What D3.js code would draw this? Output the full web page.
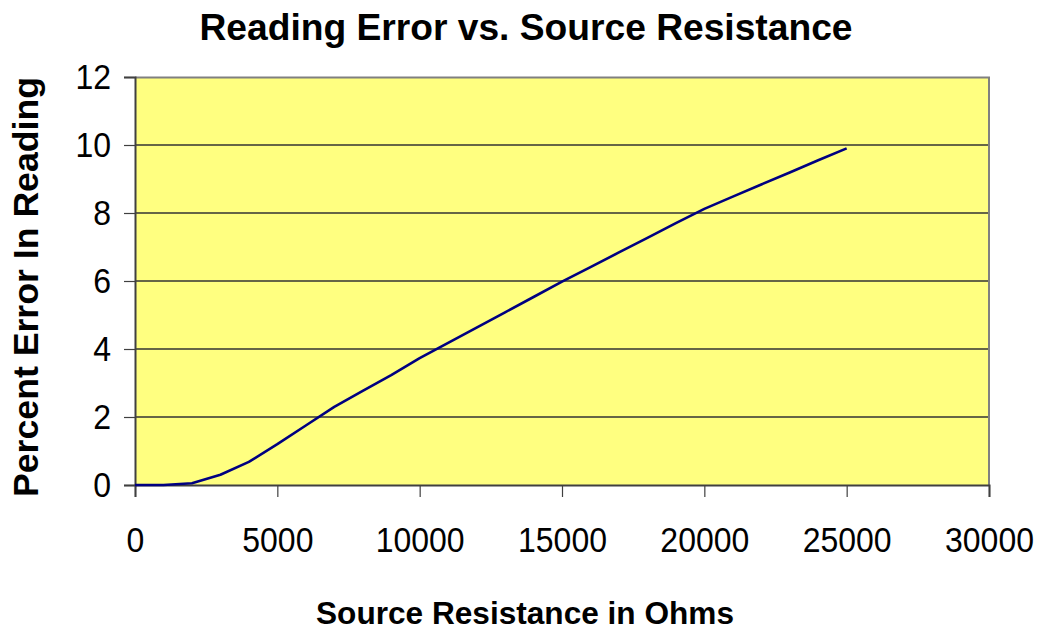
<!DOCTYPE html>
<html>
<head>
<meta charset="utf-8">
<script src="https://cdn.jsdelivr.net/npm/d3@7"></script>
<style>
  body { margin: 0; background: #fff; }
  text { font-family: Arial, "Liberation Sans", sans-serif; }
</style>
</head>
<body>
<div id="chart"></div>
<script>
// data
var resistance = [0, 1000, 2000, 3000, 4000, 5000, 6000, 7000, 8000, 9000, 10000, 11000, 12000,
  13000, 14000, 15000, 16000, 17000, 18000, 19000, 20000, 21000, 22000, 23000, 24000, 25000];
var percentError = [0, 0, 0.05, 0.3, 0.68, 1.2, 1.75, 2.3, 2.77, 3.23, 3.73, 4.18, 4.63,
  5.08, 5.53, 5.98, 6.41, 6.84, 7.27, 7.7, 8.12, 8.48, 8.84, 9.19, 9.55, 9.9];
var xTicks = [0, 5000, 10000, 15000, 20000, 25000, 30000];
var yTicks = [0, 2, 4, 6, 8, 10, 12];

var svgWidth = 1045;
var svgHeight = 634;

var margin = {
  top: 77,
  right: 56,
  bottom: 149,
  left: 135
};

var width = svgWidth - margin.left - margin.right;
var height = svgHeight - margin.top - margin.bottom;

var svg = d3.select("#chart")
  .append("svg")
  .attr("width", svgWidth)
  .attr("height", svgHeight);

var chartGroup = svg.append("g")
  .attr("transform", `translate(${margin.left}, ${margin.top})`);

var xScale = d3.scaleLinear().domain([0, 30000]).range([0, width]);
var yScale = d3.scaleLinear().domain([0, 12]).range([height, 0]);

// plot background
chartGroup.append("rect")
  .attr("x", 0)
  .attr("y", 0)
  .attr("width", width)
  .attr("height", height)
  .attr("fill", "#ffff80");

// horizontal gridlines
chartGroup.selectAll(".grid")
  .data(yTicks.filter(d => d > 0 && d < 12))
  .enter()
  .append("line")
  .attr("x1", 0)
  .attr("x2", width)
  .attr("y1", d => yScale(d))
  .attr("y2", d => yScale(d))
  .attr("stroke", "#333")
  .attr("stroke-width", 1.5);

// top and right border
chartGroup.append("path")
  .attr("d", `M0,0.5H${width}V${height}`)
  .attr("fill", "none")
  .attr("stroke", "#808080")
  .attr("stroke-width", 2);

// axes
var bottomAxis = d3.axisBottom(xScale).tickValues(xTicks).tickFormat(d3.format("d"))
  .tickSize(12).tickPadding(30);
var leftAxis = d3.axisLeft(yScale).tickValues(yTicks).tickFormat(d3.format("d"))
  .tickSize(11).tickPadding(13);

var xAxis = chartGroup.append("g")
  .attr("transform", `translate(0, ${height})`)
  .call(bottomAxis);

var yAxis = chartGroup.append("g")
  .call(leftAxis);

[xAxis, yAxis].forEach(function(ax) {
  ax.select(".domain").attr("stroke", "#404040").attr("stroke-width", 2);
  ax.selectAll(".tick line").attr("stroke", "#404040").attr("stroke-width", 1.2);
  // the original digits are a little taller and narrower than plain Arial
  ax.selectAll(".tick text")
    .attr("fill", "#000")
    .attr("textLength", function() { return this.textContent.length * 17.8; })
    .attr("lengthAdjust", "spacingAndGlyphs")
    .style("font-size", "35px")
    .style("font-family", "Arial, 'Liberation Sans', sans-serif");
});

// the curve
var line = d3.line()
  .x((d, i) => xScale(resistance[i]))
  .y(d => yScale(d));

chartGroup.append("path")
  .datum(percentError)
  .attr("d", line)
  .attr("fill", "none")
  .attr("stroke", "#000080")
  .attr("stroke-width", 2.6)
  .attr("stroke-linejoin", "round");

// titles
svg.append("text")
  .attr("x", 526)
  .attr("y", 40)
  .attr("text-anchor", "middle")
  .attr("textLength", 653)
  .attr("lengthAdjust", "spacingAndGlyphs")
  .style("font-size", "36px")
  .style("font-weight", "bold")
  .text("Reading Error vs. Source Resistance");

svg.append("text")
  .attr("x", 525)
  .attr("y", 624)
  .attr("text-anchor", "middle")
  .attr("textLength", 418)
  .attr("lengthAdjust", "spacingAndGlyphs")
  .style("font-size", "32px")
  .style("font-weight", "bold")
  .text("Source Resistance in Ohms");

svg.append("text")
  .attr("transform", "translate(38, 287) rotate(-90)")
  .attr("text-anchor", "middle")
  .attr("textLength", 420)
  .attr("lengthAdjust", "spacingAndGlyphs")
  .style("font-size", "35px")
  .style("font-weight", "bold")
  .text("Percent Error In Reading");
</script>
</body>
</html>
